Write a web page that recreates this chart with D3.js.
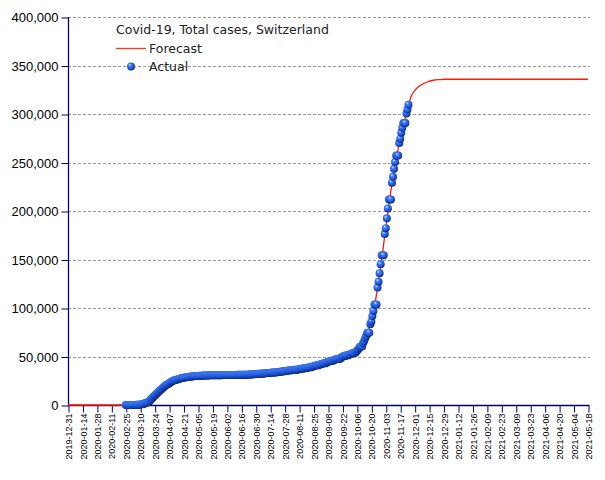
<!DOCTYPE html>
<html>
<head>
<meta charset="utf-8">
<script src="https://cdn.jsdelivr.net/npm/d3@7"></script>
<style>
  html, body { margin: 0; padding: 0; background: #fff; }
  svg { display: block; }
</style>
</head>
<body>
<svg id="chart" width="605" height="480"></svg>
<script>
// ---- Data ----
const chartTitle = "Covid-19, Total cases, Switzerland";
const legendLabels = ["Forecast", "Actual"];
const yTicks = [0, 50000, 100000, 150000, 200000, 250000, 300000, 350000, 400000];
const xStart = "2019-12-31";
const xEnd = "2021-05-18";
const actualStart = "2020-02-25";
// daily cumulative cases from 2020-02-25 to 2020-11-25
const actualValues = [
  1,1,8,8,18,
  27,42,56,90,114,214,268,337,374,491,652,652,1139,1359,2200,2200,2700,3028,4075,5294,6575,7474,8795,9877,10897,11811,12928,14076,14829,15922,16605,
  17768,18827,19606,20505,21100,21657,22253,23280,24051,24551,25107,25415,25688,25936,26336,26732,27078,27404,27740,27944,28063,28268,28496,28677,28894,29061,29164,29264,29407,29586,
  29705,29817,29905,29981,30009,30060,30126,30207,30251,30305,30344,30380,30413,30463,30514,30572,30587,30597,30618,30658,30694,30707,30725,30736,30746,30761,30776,30796,30828,30845,30862,
  30871,30874,30893,30913,30936,30956,30965,30972,30988,31011,31044,31063,31094,31117,31131,31154,31187,31200,31235,31243,31292,31310,31376,31428,31486,31555,31617,31652,31714,31851,
  31967,32101,32198,32268,32315,32369,32498,32586,32690,32817,32883,32946,33016,33148,33290,33382,33492,33591,33634,33742,33883,34000,34154,34302,34477,34609,34802,34802,35022,35232,35412,
  35616,35746,35927,35927,36108,36269,36451,36451,36451,36708,36895,37169,37403,37671,37671,37671,38124,38252,38449,38760,39026,39026,39026,39627,39903,40262,40645,41006,41006,41006,41722,
  42014,42393,42763,43127,43127,43127,44401,44592,44837,45306,45711,45711,45711,46704,46906,47179,47436,47789,47789,47789,49283,49700,50200,50700,51100,51100,51100,51500,52000,52500,
  53000,53500,53500,53500,54400,55900,57000,58600,60400,60400,60400,63900,65900,68700,71300,74400,74400,74400,83200,86200,91800,97000,103700,103700,103700,121100,127000,135700,145000,154300,154300,
  154300,176200,182300,192400,202500,211900,211900,211900,229200,235200,243500,250400,257100,257100,257100,270000,274500,280600,285700,290600,290600,290600,300400,304600,309500
];
const forecastDates = [
  "2019-12-31","2020-02-25","2020-03-03","2020-03-10","2020-03-17","2020-03-24","2020-03-31","2020-04-07",
  "2020-04-14","2020-04-21","2020-04-28","2020-05-12","2020-06-09","2020-07-07","2020-07-28","2020-08-18",
  "2020-09-08","2020-09-22","2020-10-06","2020-10-13","2020-10-20","2020-10-27","2020-11-03","2020-11-10",
  "2020-11-17","2020-11-24","2020-11-26","2020-11-28","2020-12-01","2020-12-04","2020-12-08","2020-12-13",
  "2020-12-19","2020-12-25","2020-12-30","2021-05-18"
];
const forecastValues = [
  0,0,100,600,3000,9900,16600,22300,
  25900,28100,29300,30400,31000,32500,34800,38200,
  44600,49700,55900,65900,86200,127000,182300,235200,
  274500,304600,313000,319000,324000,327500,330500,333000,
  334800,335500,335800,335800
];

// ---- Chart ----
const svg = d3.select("#chart");
const parse = d3.utcParse("%Y-%m-%d");
const fmtDate = d3.utcFormat("%Y-%m-%d");

const x = d3.scaleUtc().domain([parse(xStart), parse(xEnd)]).range([68, 588]);
const y = d3.scaleLinear().domain([0, 400000]).range([405, 17]);

const defs = svg.append("defs");
const grad = defs.append("radialGradient").attr("id", "ball")
  .attr("cx", "40%").attr("cy", "35%").attr("r", "65%").attr("fx", "35%").attr("fy", "30%");
grad.append("stop").attr("offset", "0%").attr("stop-color", "#d8e6ff");
grad.append("stop").attr("offset", "30%").attr("stop-color", "#3d7bf2");
grad.append("stop").attr("offset", "75%").attr("stop-color", "#1a4fd0");
grad.append("stop").attr("offset", "100%").attr("stop-color", "#0b2580");

// gridlines
svg.append("g").selectAll("line").data(yTicks.filter(d => d > 0)).join("line")
  .attr("x1", 68).attr("x2", 590)
  .attr("y1", d => Math.round(y(d)) + 0.5).attr("y2", d => Math.round(y(d)) + 0.5)
  .attr("stroke", "#999").attr("stroke-width", 1).attr("stroke-dasharray", "3,2");

// y axis
const yAxis = d3.axisLeft(y).tickValues(yTicks).tickSize(7).tickPadding(3)
  .tickFormat(d3.format(","));
const gy = svg.append("g").attr("transform", "translate(68.5,0.5)").call(yAxis);
gy.select(".domain").attr("stroke", "#000066").attr("stroke-width", 1.3)
  .attr("d", `M0,${y(400000) - 0.5}V${y(0)}`);
gy.selectAll(".tick line").attr("stroke", "#000066");
gy.selectAll(".tick text").attr("font-family", "'Liberation Sans', Arial, sans-serif")
  .attr("font-size", 13).attr("fill", "#000");

// x axis
const xTicks = [];
for (let d = parse(xStart); d <= parse(xEnd); d = d3.utcDay.offset(d, 14)) xTicks.push(d);
const xAxis = d3.axisBottom(x).tickValues(xTicks).tickSize(7).tickFormat(fmtDate);
const gx = svg.append("g").attr("transform", "translate(0.5,405.5)").call(xAxis);
gx.select(".domain").attr("stroke", "#000066").attr("stroke-width", 1.3).attr("d", "M67.5,0H589");
gx.selectAll(".tick line").attr("stroke", "#000066");
gx.selectAll(".tick text")
  .attr("font-family", "'Liberation Sans', Arial, sans-serif").attr("font-size", 9).attr("fill", "#000")
  .attr("text-anchor", "end")
  .attr("transform", "translate(0,8) rotate(-90)")
  .attr("x", 0).attr("y", 0).attr("dy", "0.35em");

// forecast line
const forecast = forecastDates.map((d, i) => ({ date: parse(d), value: forecastValues[i] }));
svg.append("path").datum(forecast)
  .attr("fill", "none").attr("stroke", "#ff1a00").attr("stroke-width", 1.3)
  .attr("d", d3.line().x(d => x(d.date)).y(d => y(d.value)).curve(d3.curveMonotoneX));

// actual dots
const actual = actualValues.map((v, i) => ({ date: d3.utcDay.offset(parse(actualStart), i), value: v }));
svg.append("g").selectAll("circle").data(actual).join("circle")
  .attr("cx", d => x(d.date)).attr("cy", d => y(d.value)).attr("r", 4)
  .attr("fill", "url(#ball)");

// legend
const lg = svg.append("g").attr("font-family", "'DejaVu Sans', Verdana, sans-serif").attr("font-size", 12.5).attr("fill", "#222");
lg.append("text").attr("x", 116).attr("y", 34).text(chartTitle);
lg.append("line").attr("x1", 116).attr("x2", 146).attr("y1", 48.5).attr("y2", 48.5)
  .attr("stroke", "#ff3a10").attr("stroke-width", 1.3);
lg.append("text").attr("x", 149).attr("y", 53).text(legendLabels[0]);
lg.append("circle").attr("cx", 131).attr("cy", 66.5).attr("r", 4).attr("fill", "url(#ball)");
lg.append("text").attr("x", 149).attr("y", 71).text(legendLabels[1]);
</script>
</body>
</html>
